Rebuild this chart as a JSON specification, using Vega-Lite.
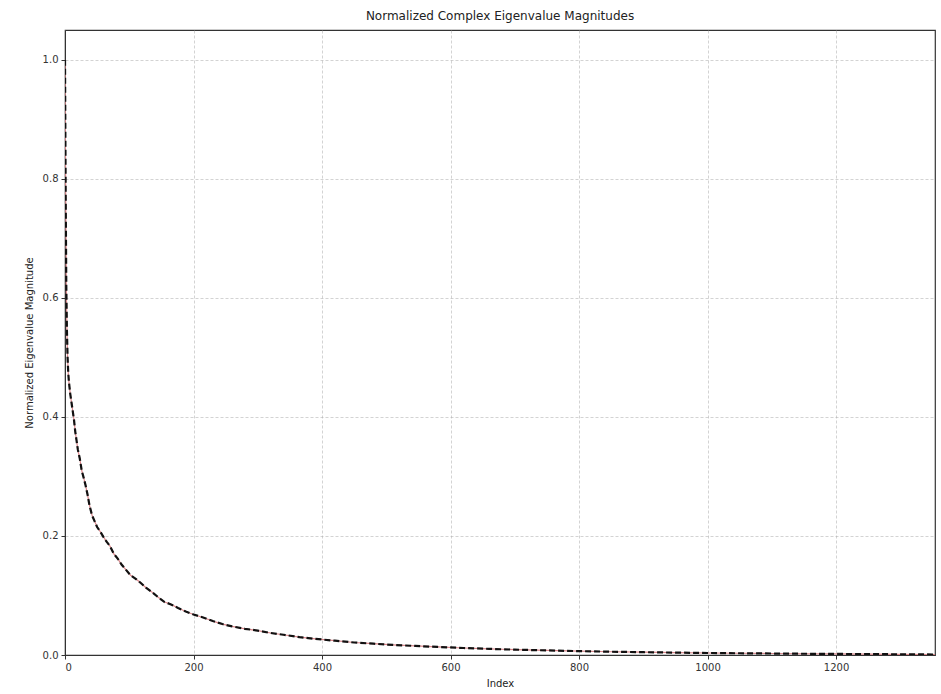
{
  "$schema": "https://vega.github.io/schema/vega-lite/v6.json",
  "autosize": {"type": "none"},
  "padding": {"left": 65, "top": 30, "right": 6, "bottom": 39},
  "width": 870,
  "height": 625,
  "background": "white",
  "title": {"text": "Normalized Complex Eigenvalue Magnitudes", "font": "DejaVu Sans", "fontSize": 12, "fontWeight": "normal", "color": "#222", "offset": 7},
  "config": {
    "view": {"stroke": "#333", "strokeWidth": 1.2},
    "axis": {
      "labelFont": "DejaVu Sans", "labelFontSize": 10, "labelColor": "#333",
      "titleFont": "DejaVu Sans", "titleFontSize": 10, "titleFontWeight": "normal", "titleColor": "#222",
      "domainColor": "#333", "tickColor": "#333", "tickSize": 4,
      "gridColor": "#b0b0b0", "gridDash": [3, 2], "gridOpacity": 0.7, "gridWidth": 0.8
    }
  },
  "data": {"values": [
    {"index": 0, "value": 1.0}, {"index": 1, "value": 0.78}, {"index": 2, "value": 0.62}, {"index": 3, "value": 0.545},
    {"index": 4, "value": 0.5}, {"index": 5, "value": 0.475}, {"index": 6, "value": 0.46}, {"index": 7, "value": 0.45},
    {"index": 8, "value": 0.44}, {"index": 10, "value": 0.425}, {"index": 12, "value": 0.41}, {"index": 14, "value": 0.395},
    {"index": 16, "value": 0.375}, {"index": 18, "value": 0.36}, {"index": 20, "value": 0.345}, {"index": 23, "value": 0.33},
    {"index": 26, "value": 0.31}, {"index": 29, "value": 0.298}, {"index": 32, "value": 0.285}, {"index": 35, "value": 0.27},
    {"index": 38, "value": 0.252}, {"index": 42, "value": 0.235}, {"index": 46, "value": 0.225}, {"index": 50, "value": 0.215},
    {"index": 55, "value": 0.207}, {"index": 60, "value": 0.198}, {"index": 65, "value": 0.19}, {"index": 70, "value": 0.183},
    {"index": 76, "value": 0.17}, {"index": 82, "value": 0.162}, {"index": 88, "value": 0.152}, {"index": 95, "value": 0.143},
    {"index": 102, "value": 0.134}, {"index": 110, "value": 0.128}, {"index": 118, "value": 0.121}, {"index": 126, "value": 0.113},
    {"index": 135, "value": 0.106}, {"index": 145, "value": 0.097}, {"index": 155, "value": 0.089}, {"index": 165, "value": 0.085},
    {"index": 176, "value": 0.079}, {"index": 188, "value": 0.073}, {"index": 200, "value": 0.068}, {"index": 215, "value": 0.063},
    {"index": 230, "value": 0.057}, {"index": 245, "value": 0.052}, {"index": 260, "value": 0.048}, {"index": 280, "value": 0.044},
    {"index": 300, "value": 0.041}, {"index": 320, "value": 0.037}, {"index": 340, "value": 0.034}, {"index": 365, "value": 0.03},
    {"index": 390, "value": 0.027}, {"index": 420, "value": 0.024}, {"index": 450, "value": 0.021}, {"index": 480, "value": 0.019},
    {"index": 510, "value": 0.017}, {"index": 545, "value": 0.0152}, {"index": 580, "value": 0.0135}, {"index": 620, "value": 0.0118},
    {"index": 660, "value": 0.0103}, {"index": 700, "value": 0.009}, {"index": 750, "value": 0.0077}, {"index": 800, "value": 0.0065},
    {"index": 850, "value": 0.0055}, {"index": 900, "value": 0.0047}, {"index": 950, "value": 0.004}, {"index": 1000, "value": 0.0034},
    {"index": 1050, "value": 0.0029}, {"index": 1100, "value": 0.0025}, {"index": 1150, "value": 0.0021}, {"index": 1200, "value": 0.0018},
    {"index": 1250, "value": 0.0015}, {"index": 1300, "value": 0.0012}, {"index": 1354, "value": 0.0008}
  ]},
  "encoding": {
    "x": {"field": "index", "type": "quantitative", "title": "Index",
      "scale": {"domain": [0, 1354], "nice": false},
      "axis": {"values": [0, 200, 400, 600, 800, 1000, 1200], "format": "d", "labelPadding": 3, "titlePadding": 6}},
    "y": {"field": "value", "type": "quantitative", "title": "Normalized Eigenvalue Magnitude",
      "scale": {"domain": [0, 1.05], "nice": false},
      "axis": {"values": [0, 0.2, 0.4, 0.6, 0.8, 1.0], "format": ".1f", "labelPadding": 3, "titlePadding": 8}}
  },
  "layer": [
    {"mark": {"type": "line", "color": "#d9868a", "strokeWidth": 1.2, "clip": true}},
    {"mark": {"type": "line", "color": "#111", "strokeWidth": 2.2, "strokeDash": [6, 3], "clip": true}}
  ]
}
